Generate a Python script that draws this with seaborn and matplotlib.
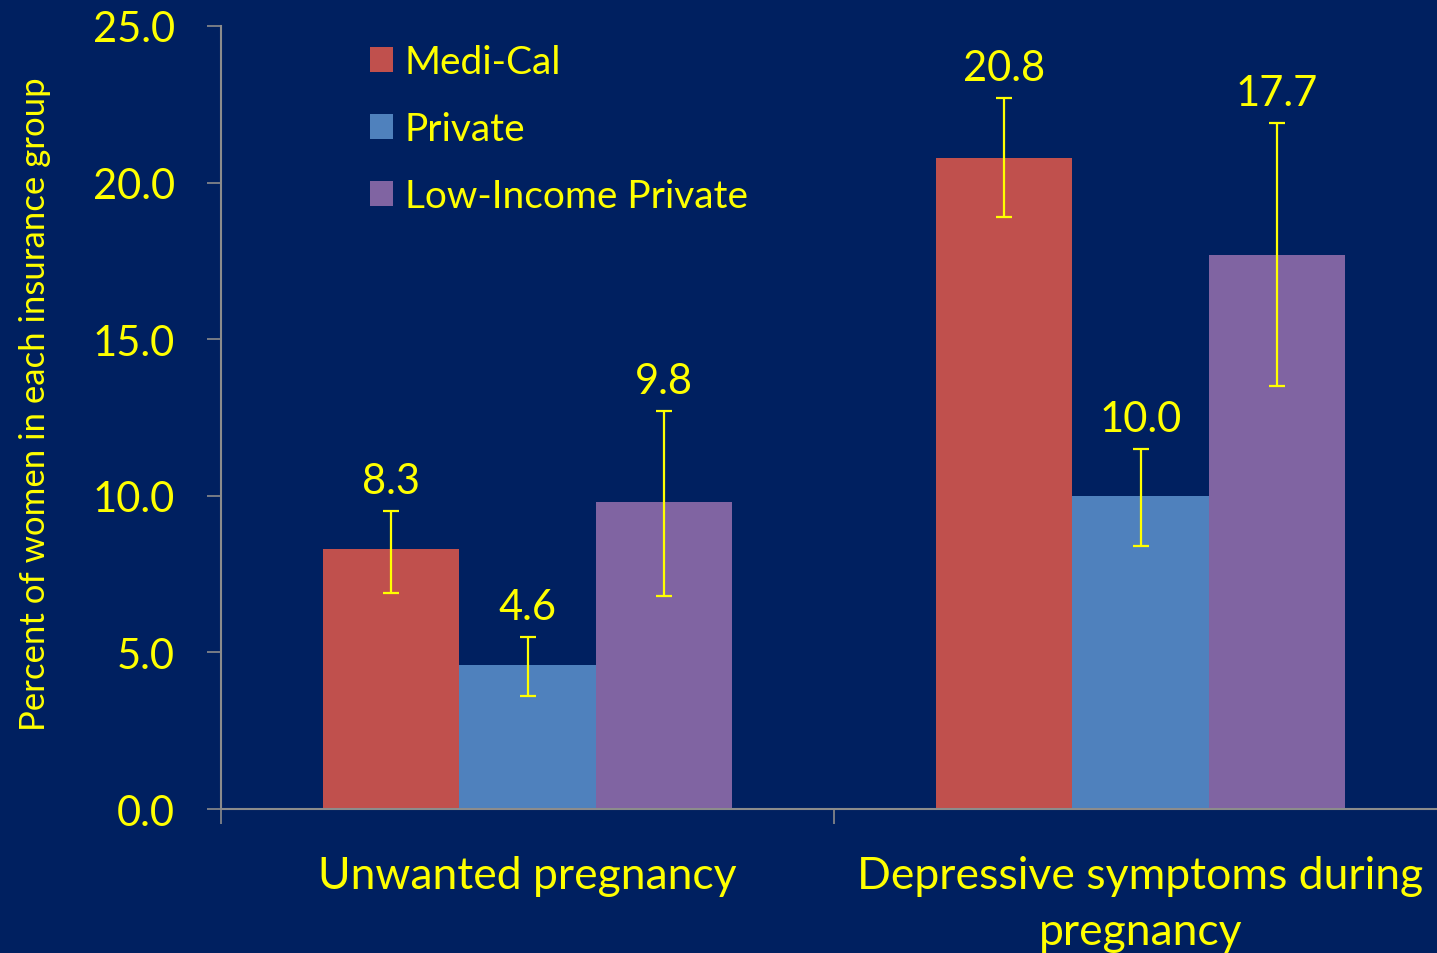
"""
Insurance group comparison: unwanted pregnancy and depressive symptoms.
Grouped bars with confidence intervals, saved to out.png.
"""

import matplotlib.pyplot as plt
import pandas as pd
import seaborn as sns

# --- data ---
measures = ["Unwanted pregnancy", "Depressive symptoms during\npregnancy"]
groups = ["Medi-Cal", "Private", "Low-Income Private"]
medi_cal = [8.3, 20.8]
private = [4.6, 10.0]
low_income_private = [9.8, 17.7]
# 95% confidence limits (lower, upper)
ci_low = {"Medi-Cal": [6.9, 18.9], "Private": [3.6, 8.4], "Low-Income Private": [6.8, 13.5]}
ci_high = {"Medi-Cal": [9.5, 22.7], "Private": [5.5, 11.5], "Low-Income Private": [12.7, 21.9]}

BG = "#002060"
YELLOW = "#FFFF00"
GRAY = "#8C8C8C"
colors = ["#C0504D", "#4F81BD", "#8064A2"]

df = pd.DataFrame({
    "measure": measures * 3,
    "insurance": [g for g in groups for _ in measures],
    "pct": medi_cal + private + low_income_private,
})

sns.set_style("white")
plt.rcParams["font.family"] = ["Lato", "DejaVu Sans"]

fig = plt.figure(figsize=(14.37, 9.54), dpi=100, facecolor=BG)
ax = fig.add_axes([221 / 1437, 1 - 810 / 954, 1226 / 1437, 783 / 954])
ax.set_facecolor(BG)

sns.barplot(data=df, x="measure", y="pct", hue="insurance", hue_order=groups,
            palette=colors, width=0.668, saturation=1, linewidth=0, ax=ax)

# error bars and value labels, placed on the bars seaborn drew
for container, name in zip(ax.containers, groups):
    for j, patch in enumerate(container.patches):
        x = patch.get_x() + patch.get_width() / 2
        y = patch.get_height()
        lo, hi = ci_low[name][j], ci_high[name][j]
        ax.errorbar(x, y, yerr=[[y - lo], [hi - y]], fmt="none", ecolor=YELLOW,
                    elinewidth=1.6, capsize=6, capthick=1.6, zorder=3)
        ax.annotate(f"{y:.1f}", (x, hi), xytext=(0, 8), textcoords="offset points",
                    ha="center", va="bottom", color=YELLOW, fontsize=30)

ax.set_ylim(0, 25)
ax.set_xlim(-0.5, 1.5)
ax.set_yticks([0, 5, 10, 15, 20, 25])
ax.set_yticklabels([f"{v:.1f}" for v in [0, 5, 10, 15, 20, 25]])
ax.set_xticks([0, 1])
ax.set_xticks([-0.5, 0.5, 1.5], minor=True)
ax.tick_params(left=True, bottom=True, which="both")
ax.tick_params(axis="x", which="major", length=0, pad=33, labelsize=32, labelcolor=YELLOW)
ax.tick_params(axis="x", which="minor", length=11, width=1.2, color=GRAY, direction="out")
ax.tick_params(axis="y", length=10, width=1.2, color=GRAY, direction="out",
               labelsize=30, labelcolor=YELLOW, pad=23)
for lbl in ax.get_xticklabels():
    lbl.set_linespacing(1.45)
ax.set_xlabel("")
ax.set_ylabel("Percent of women in each insurance group", color=YELLOW, fontsize=25, labelpad=30)
ax.yaxis.label.set_y(0.518)

for side in ["top", "right"]:
    ax.spines[side].set_visible(False)
for side in ["left", "bottom"]:
    ax.spines[side].set_color(GRAY)
    ax.spines[side].set_linewidth(1.5)

handles, labels = ax.get_legend_handles_labels()
leg = ax.legend(handles, labels, loc="upper left", bbox_to_anchor=(335 / 1437, 1 - 10 / 954),
                bbox_transform=fig.transFigure, frameon=False, fontsize=28,
                handlelength=0.6, handleheight=0.6, handletextpad=0.3, labelspacing=0.8)
for text in leg.get_texts():
    text.set_color(YELLOW)

fig.savefig("out.png", dpi=100, facecolor=BG)
